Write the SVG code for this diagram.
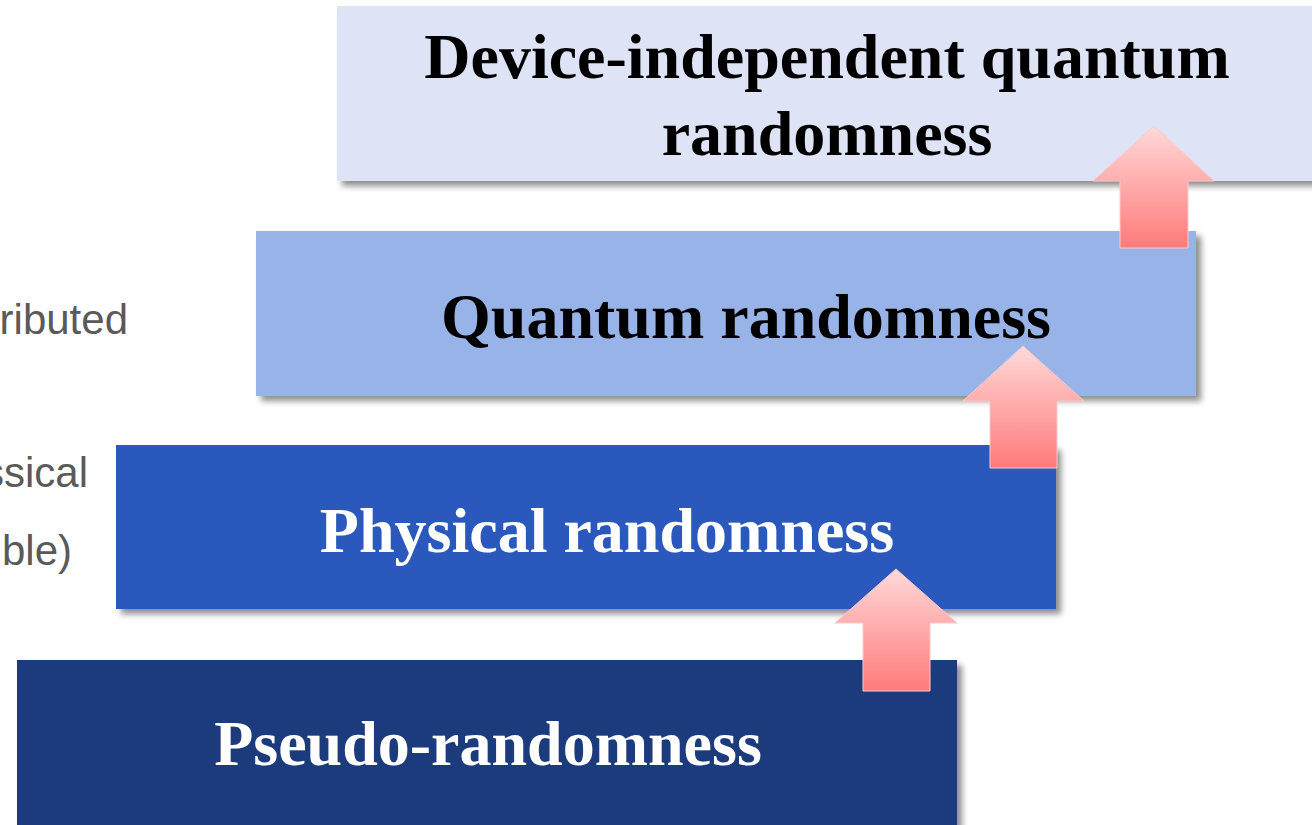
<svg xmlns="http://www.w3.org/2000/svg" width="1312" height="825" viewBox="0 0 1312 825">
<defs>
<filter id="sh" x="-5%" y="-5%" width="115%" height="125%">
<feGaussianBlur in="SourceAlpha" stdDeviation="3"/>
<feOffset dx="5" dy="5"/>
<feComponentTransfer><feFuncA type="linear" slope="0.45"/></feComponentTransfer>
<feMerge><feMergeNode/><feMergeNode in="SourceGraphic"/></feMerge>
</filter>
<linearGradient id="ag" x1="0" y1="0" x2="0" y2="1">
<stop offset="0" stop-color="#ffd9d9"/>
<stop offset="1" stop-color="#ff7a7a"/>
</linearGradient>
<style>
.t{font-family:"Liberation Serif","Times New Roman",serif;font-weight:bold;font-size:64px;text-anchor:middle}
.side{font-family:"Liberation Sans",Arial,sans-serif;font-size:42px;fill:#5a5a5a;text-anchor:end}
.arr{fill:url(#ag);stroke:#ffc8c8;stroke-width:1}
</style>
</defs>
<g id="side-text">
<text class="side" x="128" y="334">ributed</text>
<text class="side" x="88" y="487">ssical</text>
<text class="side" x="72" y="565">ble)</text>
</g>
<g id="level4">
<rect x="17" y="660" width="940" height="180" fill="#1b3a7c" filter="url(#sh)"/>
<text class="t" x="488" y="765" fill="#ffffff">Pseudo-randomness</text>
</g>
<g id="level3">
<rect x="116" y="445" width="940" height="164" fill="#2a58bd" filter="url(#sh)"/>
<text class="t" x="607" y="552" fill="#ffffff">Physical randomness</text>
</g>
<g id="level2">
<rect x="256" y="231" width="940" height="165" fill="#98b3e8" filter="url(#sh)"/>
<text class="t" x="746" y="338" fill="#000000">Quantum randomness</text>
</g>
<g id="level1">
<rect x="337" y="6" width="990" height="175" fill="#dee4f6" filter="url(#sh)"/>
<text class="t" x="827" y="78" fill="#000000">Device-independent quantum</text>
<text class="t" x="827" y="155" fill="#000000">randomness</text>
</g>
<g id="connectors">
<polygon class="arr" points="896,569 957,623 930,623 930,691 863,691 863,623 835,623"/>
<polygon class="arr" points="1023,346 1084,401 1057,401 1057,468 990,468 990,401 963,401"/>
<polygon class="arr" points="1154,126 1214,181 1188,181 1188,248 1120,248 1120,181 1093,181"/>
</g>
</svg>
